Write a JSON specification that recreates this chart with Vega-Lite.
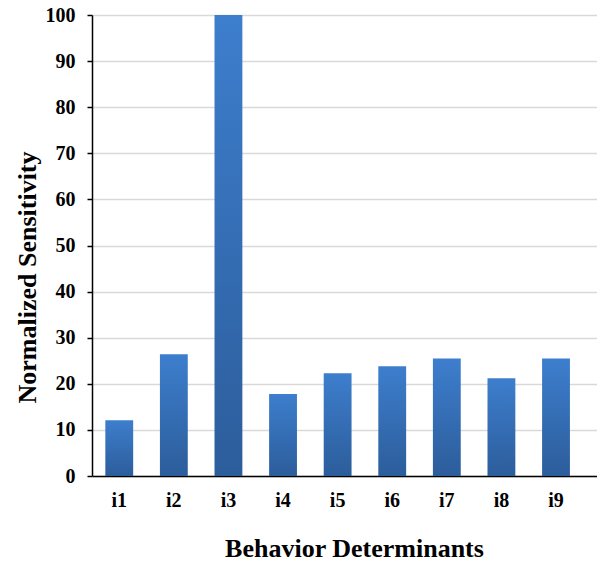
{
  "$schema": "https://vega.github.io/schema/vega-lite/v6.json",
  "width": 505,
  "height": 461,
  "autosize": {"type": "none"},
  "padding": {"left": 92, "top": 15, "right": 0, "bottom": 85},
  "background": "white",
  "data": {
    "values": [
      {"item": "i1", "sensitivity": 12.1},
      {"item": "i2", "sensitivity": 26.4},
      {"item": "i3", "sensitivity": 100},
      {"item": "i4", "sensitivity": 17.8},
      {"item": "i5", "sensitivity": 22.3},
      {"item": "i6", "sensitivity": 23.8},
      {"item": "i7", "sensitivity": 25.5},
      {"item": "i8", "sensitivity": 21.2},
      {"item": "i9", "sensitivity": 25.5}
    ]
  },
  "mark": {
    "type": "bar",
    "color": {
      "gradient": "linear",
      "x1": 0, "y1": 0, "x2": 0, "y2": 1,
      "stops": [
        {"offset": 0, "color": "#3d7ecd"},
        {"offset": 1, "color": "#2c5d9b"}
      ]
    }
  },
  "encoding": {
    "x": {
      "field": "item",
      "type": "nominal",
      "sort": null,
      "title": "Behavior Determinants",
      "scale": {"paddingInner": 0.49, "paddingOuter": 0.37, "align": 0.33},
      "axis": {
        "labelAngle": 0,
        "tickSize": 0,
        "labelPadding": 14,
        "labelFontSize": 20,
        "titleFontSize": 26,
        "titleX": 262,
        "titleY": 72,
        "titleBaseline": "middle"
      }
    },
    "y": {
      "field": "sensitivity",
      "type": "quantitative",
      "title": "Normalized Sensitivity",
      "scale": {"domain": [0, 100], "nice": false},
      "axis": {
        "values": [0, 10, 20, 30, 40, 50, 60, 70, 80, 90, 100],
        "grid": true,
        "tickSize": 5,
        "labelPadding": 12,
        "labelFontSize": 20,
        "titleFontSize": 26,
        "titleX": -65,
        "titleY": 262,
        "titleBaseline": "middle",
        "titleAlign": "center",
        "titleAngle": -90
      }
    }
  },
  "config": {
    "font": "Liberation Serif",
    "view": {"stroke": null},
    "axis": {
      "labelFont": "Liberation Serif",
      "titleFont": "Liberation Serif",
      "labelFontWeight": "bold",
      "titleFontWeight": "bold",
      "labelColor": "black",
      "titleColor": "black",
      "domainColor": "black",
      "domainWidth": 1.5,
      "tickColor": "black",
      "tickWidth": 1.5,
      "gridColor": "#d9d9d9",
      "gridWidth": 1.5
    },
    "axisX": {"grid": false}
  }
}
